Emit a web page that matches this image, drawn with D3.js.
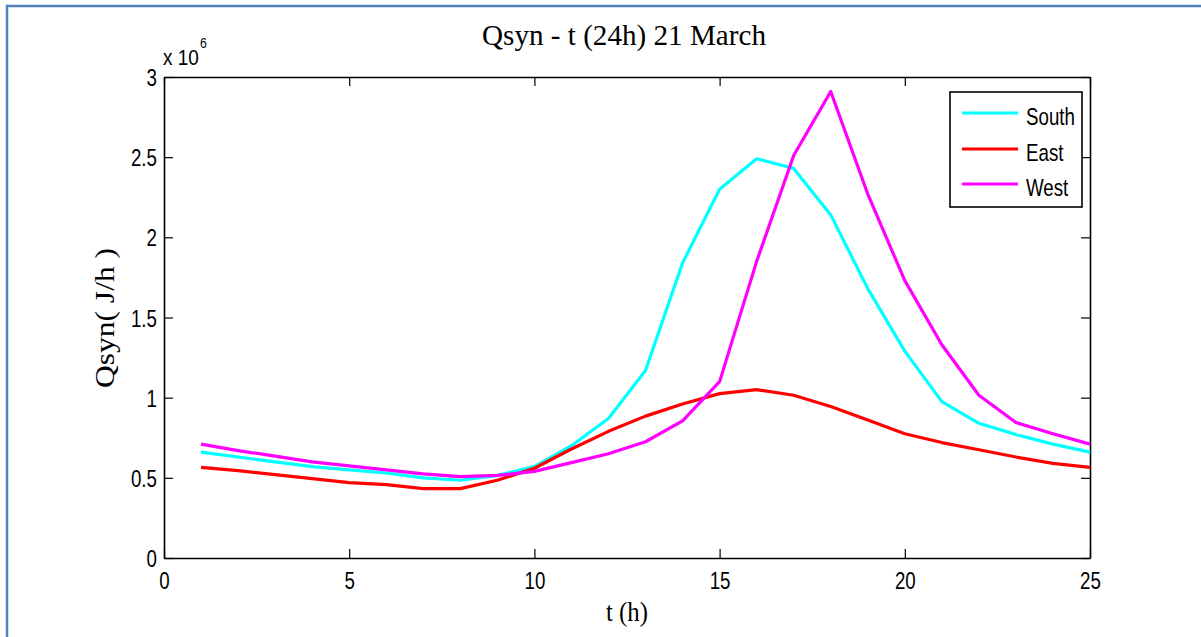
<!DOCTYPE html>
<html>
<head>
<meta charset="utf-8">
<script src="https://cdn.jsdelivr.net/npm/d3@7"></script>
<style>
  body { margin: 0; background: #fff; }
  svg { display: block; }
  .sans { font-family: "Liberation Sans", Arial, sans-serif; fill: #000; }
  .serif { font-family: "Liberation Serif", "Times New Roman", serif; fill: #000; }
</style>
</head>
<body>
<svg id="chart" width="1201" height="637"></svg>
<script>
// Hourly sensible heat gain (x 10^6 J/h) on 21 March, per facade orientation
const hours = [1, 2, 3, 4, 5, 6, 7, 8, 9, 10, 11, 12, 13, 14, 15, 16, 17, 18, 19, 20, 21, 22, 23, 24, 25];
const south = [0.66, 0.63, 0.60, 0.57, 0.55, 0.53, 0.50, 0.485, 0.515, 0.57, 0.70, 0.87, 1.17, 1.84, 2.30, 2.49, 2.43, 2.14, 1.68, 1.29, 0.975, 0.84, 0.77, 0.71, 0.66];
const east  = [0.565, 0.545, 0.52, 0.495, 0.47, 0.458, 0.433, 0.433, 0.485, 0.56, 0.68, 0.79, 0.885, 0.96, 1.025, 1.05, 1.015, 0.945, 0.86, 0.775, 0.72, 0.675, 0.63, 0.59, 0.565];
const west  = [0.71, 0.67, 0.635, 0.60, 0.575, 0.55, 0.525, 0.507, 0.515, 0.54, 0.595, 0.65, 0.725, 0.855, 1.10, 1.85, 2.51, 2.91, 2.27, 1.73, 1.33, 1.015, 0.845, 0.775, 0.71];

const seriesNames  = ["South", "East", "West"];
const seriesColors = ["#00ffff", "#ff0000", "#ff00ff"];
const seriesValues = [south, east, west];

const xTicks = [0, 5, 10, 15, 20, 25];
const yTicks = [0, 0.5, 1, 1.5, 2, 2.5, 3];
const yTickLabels = ["0", "0.5", "1", "1.5", "2", "2.5", "3"];

const titleText = "Qsyn - t (24h) 21 March";
const xLabelText = "t (h)";
const yLabelText = "Qsyn( J/h )";

const svg = d3.select("#chart");

// page frame
svg.append("rect")
  .attr("x", 7).attr("y", 6)
  .attr("width", 1400).attr("height", 800)
  .attr("fill", "none")
  .attr("stroke", "#4f81bd")
  .attr("stroke-width", 2.5);

const plot = { left: 164, right: 1090, top: 77, bottom: 558 };

const x = d3.scaleLinear().domain([0, 25]).range([plot.left, plot.right]);
const y = d3.scaleLinear().domain([0, 3]).range([plot.bottom, plot.top]);

const SX = 0.78;   // horizontal squeeze of the sans labels
const TICK = 9;

function styleAxis(g) {
  g.select(".domain").attr("stroke", "#000").attr("stroke-width", 1.6);
  g.selectAll(".tick line").attr("stroke", "#000").attr("stroke-width", 1.2);
}

// bottom axis with labels
const gx = svg.append("g")
  .attr("transform", `translate(0,${plot.bottom})`)
  .call(d3.axisBottom(x).tickValues(xTicks).tickFormat(d3.format("d"))
    .tickSizeInner(-TICK).tickSizeOuter(0).tickPadding(14));
styleAxis(gx);
gx.selectAll(".tick text")
  .attr("class", "sans")
  .attr("font-size", 24)
  .attr("transform", `scale(${SX},1)`);

// left axis with labels
const gy = svg.append("g")
  .attr("transform", `translate(${plot.left},0)`)
  .call(d3.axisLeft(y).tickValues(yTicks).tickFormat((d, i) => yTickLabels[i])
    .tickSizeInner(-TICK).tickSizeOuter(0).tickPadding(9));
styleAxis(gy);
gy.selectAll(".tick text")
  .attr("class", "sans")
  .attr("font-size", 24)
  .attr("dy", "0.36em")
  .attr("transform", `scale(${SX},1)`);

// top and right box edges with mirrored ticks
const gt = svg.append("g")
  .attr("transform", `translate(0,${plot.top})`)
  .call(d3.axisTop(x).tickValues(xTicks).tickFormat("")
    .tickSizeInner(-TICK).tickSizeOuter(0));
styleAxis(gt);
const gr = svg.append("g")
  .attr("transform", `translate(${plot.right},0)`)
  .call(d3.axisRight(y).tickValues(yTicks).tickFormat("")
    .tickSizeInner(-TICK).tickSizeOuter(0));
styleAxis(gr);

// data lines
const line = d3.line()
  .x((d, i) => x(hours[i]))
  .y(d => y(d));

seriesValues.forEach((vals, k) => {
  svg.append("path")
    .datum(vals)
    .attr("d", line)
    .attr("fill", "none")
    .attr("stroke", seriesColors[k])
    .attr("stroke-width", 3.2)
    .attr("stroke-linejoin", "round");
});

function squeezedText(str, px, py, size, sx, anchor, cls) {
  return svg.append("text")
    .attr("class", cls || "sans")
    .attr("transform", `translate(${px},${py}) scale(${sx},1)`)
    .attr("font-size", size)
    .attr("text-anchor", anchor || "start")
    .text(str);
}

// exponent note
squeezedText("x 10", 163, 65, 22, 0.86, "start");
squeezedText("6", 200, 48, 15, 0.82, "start");

// title and axis labels
svg.append("text")
  .attr("class", "serif")
  .attr("x", 624).attr("y", 45)
  .attr("font-size", 30)
  .attr("text-anchor", "middle")
  .attr("textLength", 284)
  .attr("lengthAdjust", "spacingAndGlyphs")
  .text(titleText);

svg.append("text")
  .attr("class", "serif")
  .attr("x", 627).attr("y", 621)
  .attr("font-size", 27)
  .attr("text-anchor", "middle")
  .attr("textLength", 42)
  .attr("lengthAdjust", "spacingAndGlyphs")
  .text(xLabelText);

svg.append("text")
  .attr("class", "serif")
  .attr("transform", "translate(114,318) rotate(-90)")
  .attr("font-size", 27)
  .attr("text-anchor", "middle")
  .attr("textLength", 140)
  .attr("lengthAdjust", "spacingAndGlyphs")
  .text(yLabelText);

// legend
const legend = svg.append("g");
legend.append("rect")
  .attr("x", 950).attr("y", 92)
  .attr("width", 132).attr("height", 115)
  .attr("fill", "#fff")
  .attr("stroke", "#000")
  .attr("stroke-width", 1.6);
const legendY = [113, 149, 184];
seriesNames.forEach((name, k) => {
  legend.append("line")
    .attr("x1", 962).attr("x2", 1018)
    .attr("y1", legendY[k]).attr("y2", legendY[k])
    .attr("stroke", seriesColors[k])
    .attr("stroke-width", 3.2);
  squeezedText(name, 1026, legendY[k] + 12, 24, SX, "start");
});
</script>
</body>
</html>
